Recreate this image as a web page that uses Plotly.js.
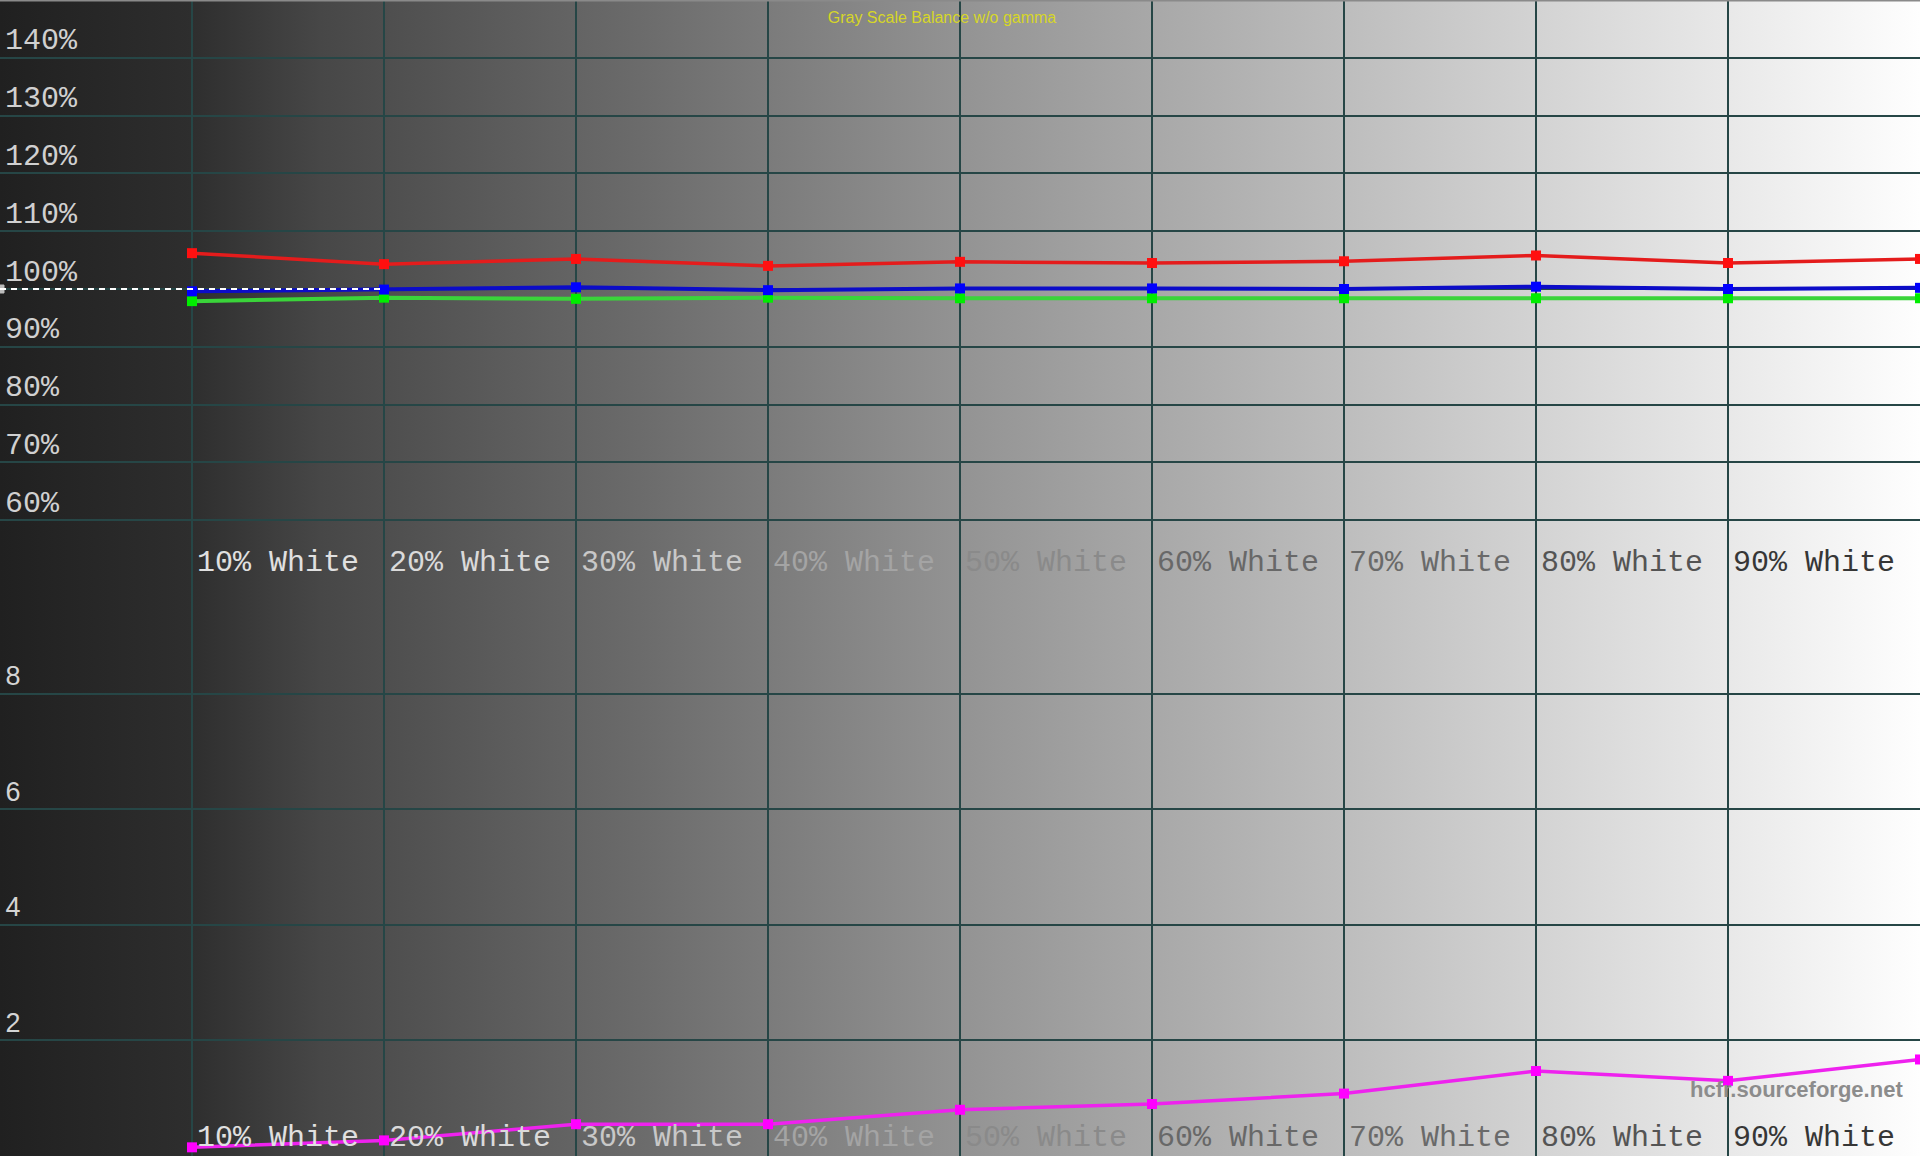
<!DOCTYPE html>
<html>
<head>
<meta charset="utf-8">
<script src="https://cdn.plot.ly/plotly-3.0.1.min.js"></script>
<style>
  html, body { margin: 0; padding: 0; background: #202020; }
  #chart {
    width: 1920px; height: 1156px;
    background: linear-gradient(to right, #202020 0%, #2e2e2e 10%, #474747 16.7%, #6b6b6b 33.3%, #939393 50%, #b6b6b6 66.7%, #dadada 83.3%, #fefefe 100%);
  }
</style>
</head>
<body>
<div id="chart"></div>
<script>
// ---- data ----
const categories = ['10% White', '20% White', '30% White', '40% White', '50% White', '60% White', '70% White', '80% White', '90% White'];
const categoryLevels = [10, 20, 30, 40, 50, 60, 70, 80, 90];
const levels = [10, 20, 30, 40, 50, 60, 70, 80, 90, 100];
const redPct   = [106.2, 104.3, 105.2, 104.0, 104.7, 104.5, 104.8, 105.8, 104.5, 105.2];
const greenPct = [97.9, 98.5, 98.3, 98.5, 98.4, 98.4, 98.4, 98.4, 98.4, 98.4];
const bluePct  = [99.6, 99.9, 100.3, 99.8, 100.1, 100.1, 100.0, 100.4, 100.0, 100.2];
const deltaE   = [0.15, 0.27, 0.55, 0.55, 0.80, 0.90, 1.08, 1.47, 1.30, 1.67];
const refLevels = [0, 20];
const refPct = [100, 100];
const pctTicks = [60, 70, 80, 90, 100, 110, 120, 130, 140];
const pctTickLabels = ['60%', '70%', '80%', '90%', '100%', '110%', '120%', '130%', '140%'];
const deTicks = [2, 4, 6, 8];
const deTickLabels = ['2', '4', '6', '8'];

// ---- styles ----
const labelColors = ['#e0e0e0', '#dadada', '#c8c8c8', '#a4a4a4', '#8a8a8a', '#686868', '#6a6a6a', '#545454', '#363636'];
const gridColor = '#264646';
const monoFont = 'Liberation Mono, Courier New, monospace';

const catText = categories.map((c, i) => '<span style="color:' + labelColors[i] + '">' + c + '</span>');

const traces = [
  { x: levels, y: greenPct, xaxis: 'x', yaxis: 'y', mode: 'lines+markers',
    line: { color: '#3ad43a', width: 4 }, marker: { symbol: 'square', size: 10, color: '#00ee00' } },
  { x: levels, y: bluePct, xaxis: 'x', yaxis: 'y', mode: 'lines+markers',
    line: { color: '#0c0cc8', width: 4 }, marker: { symbol: 'square', size: 10, color: '#0000ff' } },
  { x: levels, y: redPct, xaxis: 'x', yaxis: 'y', mode: 'lines+markers',
    line: { color: '#e41c1c', width: 3.5 }, marker: { symbol: 'square', size: 10, color: '#ff1010' } },
  { x: refLevels, y: refPct, xaxis: 'x', yaxis: 'y', mode: 'lines+markers',
    line: { color: '#ffffff', width: 2, dash: '6px,5px' },
    marker: { symbol: 'square', size: [8, 0], color: '#ffffff' } },
  { x: levels, y: deltaE, xaxis: 'x2', yaxis: 'y2', mode: 'lines+markers',
    line: { color: '#ee22ee', width: 3.5 }, marker: { symbol: 'square', size: 10, color: '#ff00ff' } }
];

const xCommon = {
  range: [0, 100], tickvals: categoryLevels, ticktext: catText,
  showgrid: true, gridcolor: gridColor, gridwidth: 2,
  zeroline: false, showline: false, ticks: '',
  ticklabelposition: 'inside right', ticklabelstandoff: -5, ticklabelshift: 5,
  tickfont: { family: monoFont, size: 30, color: '#dcdcdc' },
  fixedrange: true
};

const layout = {
  width: 1920, height: 1156,
  margin: { l: 0, r: 0, t: 0, b: 0, pad: 0 },
  paper_bgcolor: 'rgba(0,0,0,0)', plot_bgcolor: 'rgba(0,0,0,0)',
  showlegend: false, hovermode: false,
  title: { text: 'Gray Scale Balance w/o gamma', x: 942 / 1920, xanchor: 'center', y: 1 - 17 / 1156, yanchor: 'middle',
           font: { family: 'Liberation Sans, Arial, sans-serif', size: 16, color: '#d6d628' } },
  xaxis: Object.assign({}, xCommon, { anchor: 'y', domain: [0, 1] }),
  xaxis2: Object.assign({}, xCommon, { anchor: 'y2', domain: [0, 1], ticklabelstandoff: -2 }),
  yaxis: {
    domain: [0.5, 1], range: [50, 150], tickvals: pctTicks, ticktext: pctTickLabels,
    showgrid: true, gridcolor: gridColor, gridwidth: 2, zeroline: false,
    showline: true, linecolor: '#2e5656', linewidth: 4, ticks: '',
    ticklabelposition: 'inside', ticklabelstandoff: 8, ticklabelshift: -19,
    tickfont: { family: monoFont, size: 30, color: '#d0d0d0' }, fixedrange: true
  },
  yaxis2: {
    domain: [0, 0.5], range: [0, 10], tickvals: deTicks, ticktext: deTickLabels,
    showgrid: true, gridcolor: gridColor, gridwidth: 2, zeroline: false,
    showline: true, linecolor: '#2e5656', linewidth: 4, ticks: '',
    ticklabelposition: 'inside', ticklabelstandoff: 8, ticklabelshift: -18,
    tickfont: { family: 'Liberation Sans, Arial, sans-serif', size: 27, color: '#d4d4d4' }, fixedrange: true
  },
  shapes: [
    { type: 'line', xref: 'paper', yref: 'paper', x0: 0, x1: 1, y0: 1, y1: 1, line: { color: '#8a8a8a', width: 3 } }
  ],
  annotations: [
    { text: '<b>hcfr.sourceforge.net</b>', xref: 'paper', yref: 'paper', x: 1905 / 1920, xanchor: 'right',
      y: (1156 - 1089) / 1156, yanchor: 'middle', showarrow: false,
      font: { family: 'Liberation Sans, Arial, sans-serif', size: 22, color: '#8c8c8c' } }
  ]
};

Plotly.newPlot('chart', traces, layout, { displayModeBar: false, staticPlot: true });
</script>
</body>
</html>
